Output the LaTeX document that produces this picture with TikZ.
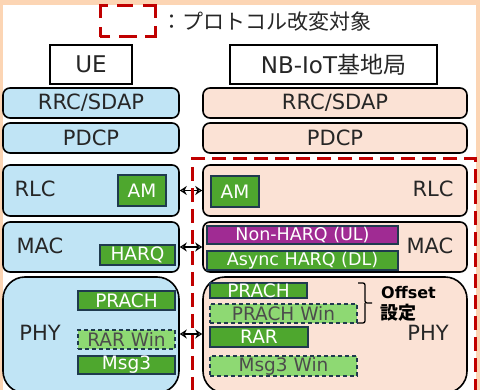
\documentclass[tikz,border=0pt]{standalone}
\usepackage{fontspec}
\setmainfont{DejaVu Sans}
\newfontfamily\jp{Noto Sans CJK JP}
\usetikzlibrary{arrows.meta}
\definecolor{frame}{HTML}{FCD5B4}
\definecolor{ueblue}{HTML}{C0E4F5}
\definecolor{nbpeach}{HTML}{FBE2D5}
\definecolor{gr}{HTML}{4EA72E}
\definecolor{lgr}{HTML}{8ED973}
\definecolor{purp}{HTML}{A02B93}
\definecolor{navy}{HTML}{1F3A4E}
\definecolor{redd}{HTML}{C00000}
\definecolor{txt}{HTML}{262626}
\tikzset{
  fs/.style={font=\fontsize{#1}{#1}\selectfont},
  header/.style={draw=black, line width=1.8pt, fill=white, text=txt, inner sep=0pt},
  uelayer/.style={draw=black, line width=1.6pt, fill=ueblue, rounded corners=7pt, text=txt, inner sep=0pt},
  nblayer/.style={draw=black, line width=1.6pt, fill=nbpeach, rounded corners=7pt, text=txt, inner sep=0pt},
  func/.style={draw=navy, line width=1.2pt, fill=gr, text=white, inner sep=0pt, fs=18.5},
  funcp/.style={func, fill=purp, fs=17.5},
  funcn/.style={draw=navy, line width=1.2pt, fill=lgr, text=black!70, dash pattern=on 4pt off 3pt, inner sep=0pt, fs=18.5},
  lbl/.style={text=txt, inner sep=0pt, fs=21},
  biarrow/.style={line width=1.4pt, {Stealth[open,length=7pt,width=9pt]}-{Stealth[open,length=7pt,width=9pt]}},
  reddash/.style={draw=redd, line width=3pt, dash pattern=on 14pt off 7pt, inner sep=0pt}
}
\begin{document}
\begin{tikzpicture}[x=1pt,y=-1pt]
\useasboundingbox (0,0) rectangle (480,390);
\fill[frame] (0,0) rectangle (480,390);
\fill[white] (3,5) rectangle (476,395);
% legend
\draw[draw=redd, line width=3pt, dash pattern=on 10pt off 9pt on 20pt off 9pt on 16pt off 10pt on 24pt off 8pt on 21pt off 8pt on 18pt off 9pt on 10pt off 0pt]
  (100,37) -- (100,6) -- (155,6) -- (155,37) -- cycle;
\node[anchor=west, inner sep=0pt, text=txt, fs=21] (legendtext) at (161,22) {\jp ：プロトコル改変対象};
% headers
\node[header, minimum width=82pt, minimum height=39pt, fs=23] (ue) at (91,64.5) {UE};
\node[header, minimum width=207pt, minimum height=39pt, fs=23] (nb) at (333.5,64.5) {NB-IoT{\jp 基地局}};
% UE stack
\node[uelayer, minimum width=176pt, minimum height=30pt, fs=21] (uerrc) at (91,103) {RRC/SDAP};
\node[uelayer, minimum width=176pt, minimum height=30pt, fs=21] (uepdcp) at (91,138) {PDCP};
\node[uelayer, minimum width=176pt, minimum height=51pt] (uerlc) at (91,190.5) {};
\node[uelayer, minimum width=176pt, minimum height=50pt] (uemac) at (91,247) {};
\node[uelayer, rounded corners=22pt, minimum width=176pt, minimum height=116pt] (uephy) at (91,335) {};
\node[lbl] (uerlclbl) at (35,189) {RLC};
\node[lbl] (uemaclbl) at (40,246) {MAC};
\node[lbl] (uephylbl) at (40,333) {PHY};
\node[func, minimum width=48pt, minimum height=31pt] (ueam) at (142,190.5) {AM};
\node[func, minimum width=75pt, minimum height=20pt] (ueharq) at (137.5,255) {HARQ};
\node[func, minimum width=97pt, minimum height=19pt] (ueprach) at (126.5,300.5) {PRACH};
\node[funcn, minimum width=97pt, minimum height=19pt] (uerarwin) at (126.5,339.5) {RAR Win};
\node[func, minimum width=97pt, minimum height=18pt] (uemsg3) at (126.5,365) {Msg3};
% NB stack
\node[nblayer, minimum width=264pt, minimum height=30pt, fs=21] (nbrrc) at (335,103) {RRC/SDAP};
\node[nblayer, minimum width=264pt, minimum height=30pt, fs=21] (nbpdcp) at (335,138) {PDCP};
\node[nblayer, minimum width=264pt, minimum height=51pt] (nbrlc) at (335,190.5) {};
\node[nblayer, minimum width=264pt, minimum height=50pt] (nbmac) at (335,247) {};
\node[nblayer, rounded corners=22pt, minimum width=264pt, minimum height=116pt] (nbphy) at (335,335) {};
\node[lbl] (nbrlclbl) at (433,189) {RLC};
\node[lbl] (nbmaclbl) at (430,246) {MAC};
\node[lbl] (nbphylbl) at (428,333) {PHY};
\node[func, minimum width=48pt, minimum height=31pt] (nbam) at (235,191.5) {AM};
\node[funcp, minimum width=191pt, minimum height=18pt] (nonharq) at (302.5,235) {Non-HARQ (UL)};
\node[func, fs=17.5, minimum width=191pt, minimum height=19pt] (asyncharq) at (302.5,260.5) {Async HARQ (DL)};
\node[func, minimum width=97pt, minimum height=15pt] (nbprach) at (258.5,290.5) {PRACH};
\node[funcn, minimum width=147pt, minimum height=19pt] (prachwin) at (283.5,313.5) {PRACH Win};
\node[func, minimum width=98pt, minimum height=20pt] (nbrar) at (259,337) {RAR};
\node[funcn, minimum width=147pt, minimum height=20pt] (msg3win) at (283.5,366) {Msg3 Win};
% brace
\coordinate (bt) at (358,283);
\coordinate (bb) at (358,323);
\coordinate (bm) at (372,303);
\draw[line width=1.3pt, rounded corners=2pt] (bt) -| (365,303) -- (bm);
\draw[line width=1.3pt, rounded corners=2pt] (bb) -| (365,303);
\node[anchor=west, inner sep=0pt, text=black, font=\fontsize{16}{16}\selectfont\bfseries] (offset) at (381,293) {Offset};
\node[anchor=west, inner sep=0pt, text=black, font=\fontsize{18}{18}\selectfont\jp\bfseries] (settei) at (380,313) {設定};
% arrows
\draw[biarrow] (uerlc.east) -- (nbrlc.west);
\draw[biarrow] (uemac.east) -- (nbmac.west);
\draw[biarrow] (uephy.east |- 0,334) -- (nbphy.west |- 0,334);
% changed region
\node[reddash, minimum width=283pt, minimum height=245pt] (changed) at (333.5,281.5) {};
\end{tikzpicture}
\end{document}
